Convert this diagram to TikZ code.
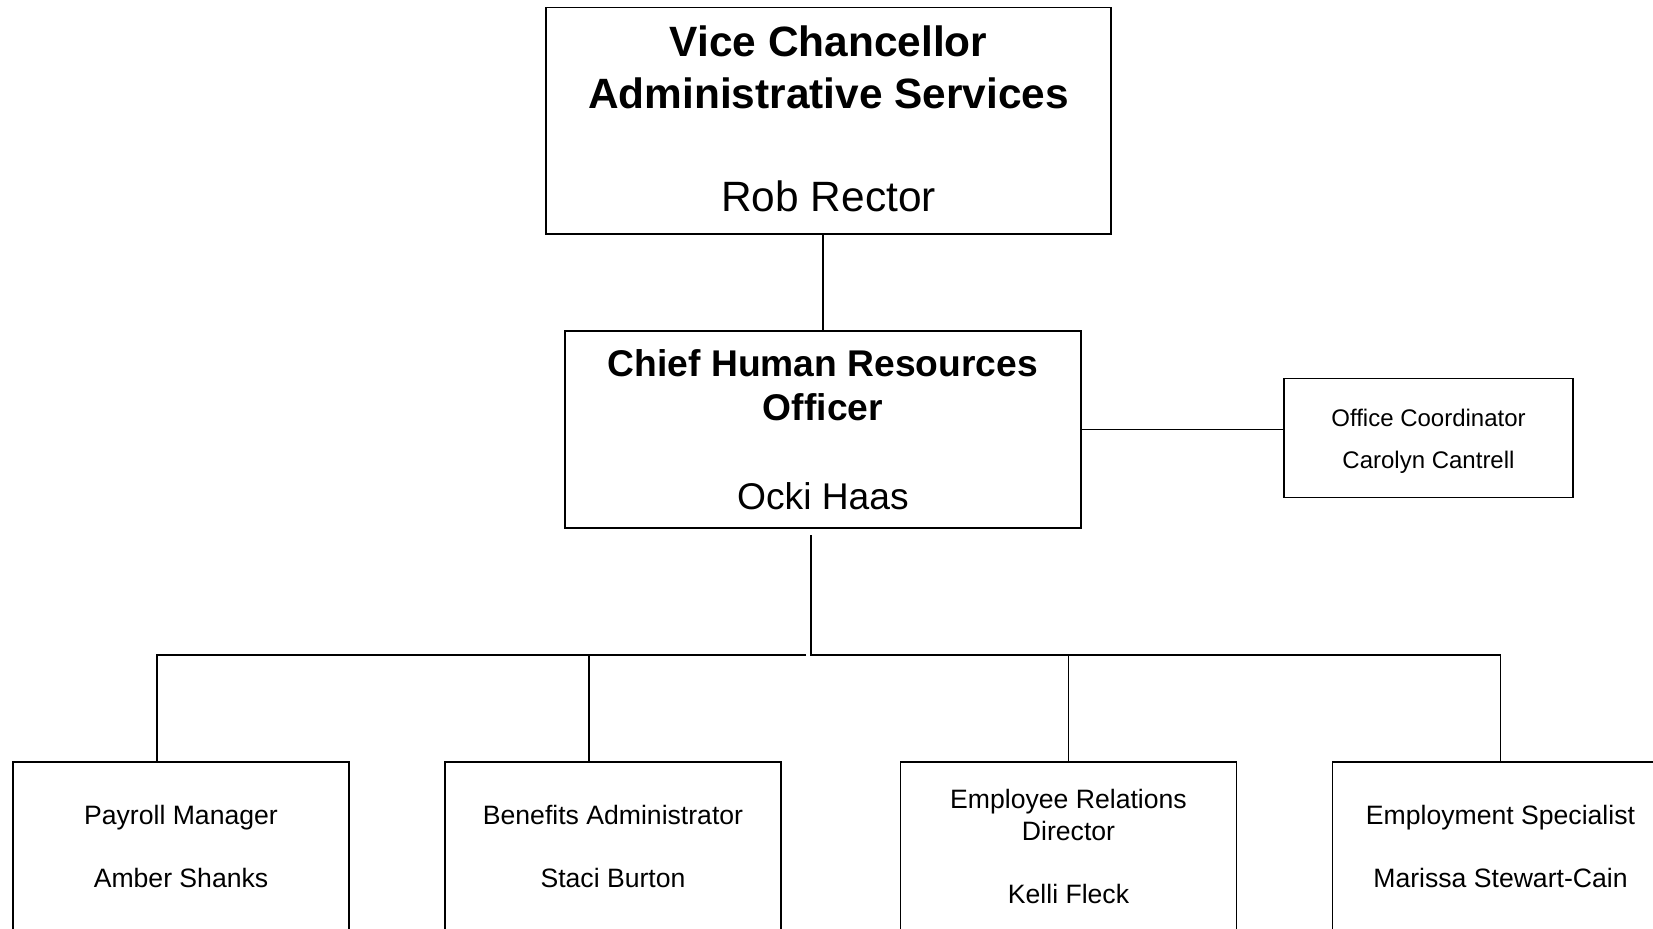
\documentclass[tikz,border=0pt]{standalone}
\usepackage{fontspec}
\setmainfont{Liberation Sans}
\begin{document}
\begin{tikzpicture}[x=0.5pt, y=-0.5pt, line width=0.8pt,
    post/.style = {draw, align=center, inner sep=0pt},
    staff/.style = {post, minimum width=168pt, minimum height=84.5pt,
        font=\fontsize{13.3}{15.8}\selectfont}]
    \useasboundingbox (0,0) rectangle (1653,928);
    \node[post, minimum width=282.5pt, minimum height=113.3pt,
        font=\fontsize{21.2}{25.9}\selectfont] (vc) at (828.6,120.7)
        {\textbf{Vice Chancellor}\\\textbf{Administrative Services}\\[25.9pt]Rob Rector\rule[-2pt]{0pt}{1pt}};
    \node[post, minimum width=257.8pt, minimum height=98.6pt,
        font=\fontsize{18.6}{22.1}\selectfont] (chro) at (822.9,429.6)
        {\textbf{Chief Human Resources}\\\textbf{Officer}\\[22.1pt]Ocki Haas};
    \node[post, minimum width=144.5pt, minimum height=59.5pt,
        font=\fontsize{12}{21}\selectfont] (office) at (1428.5,438)
        {\rule{0pt}{12pt}Office Coordinator\\Carolyn Cantrell};
    \node[staff] (pay) at (181,846.5) {Payroll Manager\\[15.8pt]Amber Shanks};
    \node[staff] (ben) at (613,846.5) {Benefits Administrator\\[15.8pt]Staci Burton};
    \node[staff] (er) at (1068.5,846.5) {Employee Relations\\Director\\[15.8pt]Kelli Fleck};
    \node[staff] (emp) at (1500.5,846.5) {Employment Specialist\\[15.8pt]Marissa Stewart-Cain};
    \coordinate (hub) at (811,655);
    % reporting lines
    \draw (chro.north) -- (chro.north |- vc.south);
    \draw (chro.east) -- (chro.east -| office.west);
    \draw ([yshift=-3pt]hub |- chro.south) -- (hub) -| (emp.north);
    \draw ([xshift=-2.5pt]hub) -| ([xshift=-12pt]pay.north);
    \draw ([xshift=-12pt]ben.north) -- ([xshift=-12pt]ben.north |- hub);
    \draw (er.north) -- (er.north |- hub);
\end{tikzpicture}
\end{document}
